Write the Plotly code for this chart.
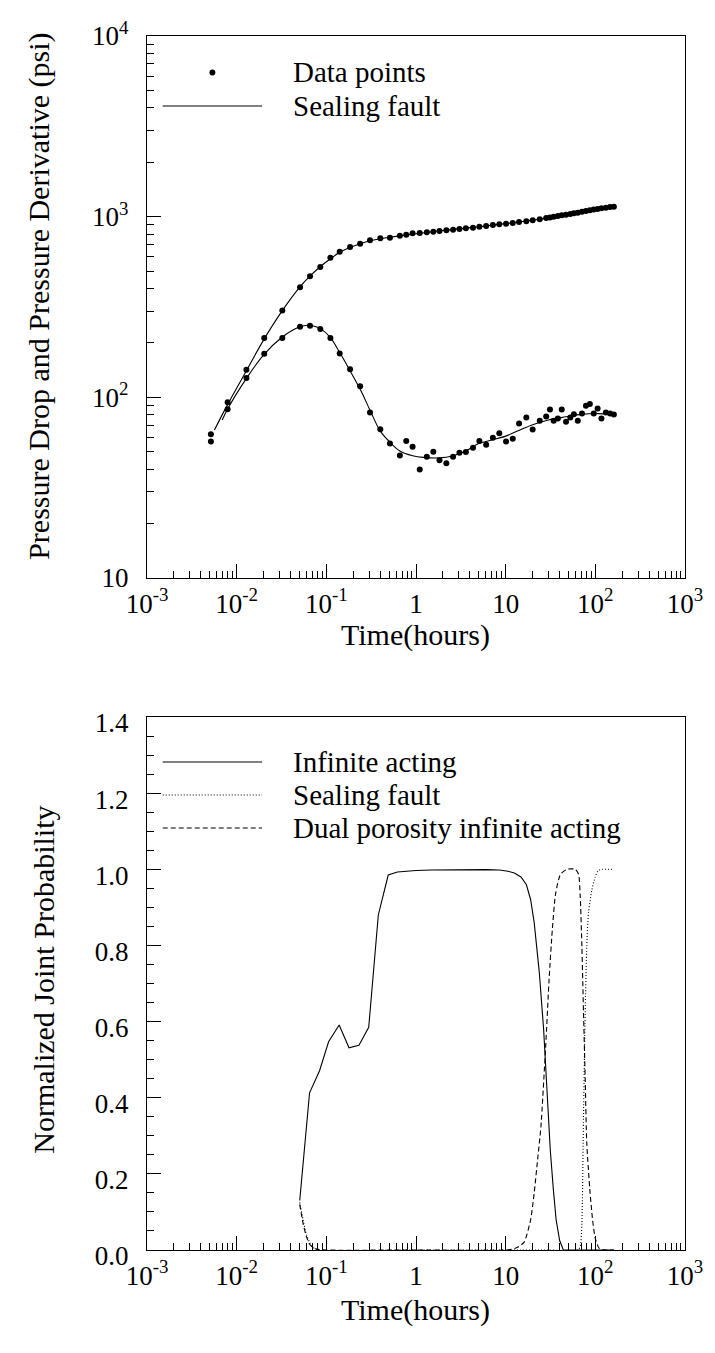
import plotly.graph_objects as go

# ---------------- pressure test data (hours, psi) ----------------
time_h = [0.00516, 0.00793, 0.01285, 0.0203, 0.0323, 0.0509, 0.0658, 0.0857, 0.111, 0.141,
          0.184, 0.238, 0.307, 0.400, 0.512, 0.661, 0.778, 0.916, 1.10, 1.32,
          1.56, 1.83, 2.18, 2.59, 3.05, 3.60, 4.32, 5.09, 6.06, 7.20,
          8.49, 10.1, 12.0, 14.1, 17.0, 20.0, 24.0, 28.3, 31.2, 34.3,
          38.2, 42.2, 47.1, 52.6, 57.6, 63.7, 71.0, 78.5, 86.9, 96.0,
          106, 117, 131, 146, 161]
pressure_drop = [62.5, 93.8, 142, 213, 302, 407, 468, 526, 593, 640,
                 680, 708, 740, 759, 765, 785, 794, 809, 811, 819,
                 826, 833, 840, 847, 855, 862, 869, 880, 888, 899,
                 907, 914, 922, 934, 942, 954, 967, 983, 991, 1000,
                 1009, 1017, 1026, 1035, 1043, 1052, 1066, 1075, 1084, 1094,
                 1104, 1112, 1122, 1131, 1136]
pressure_deriv = [56.9, 86.0, 128, 174, 213, 246, 249, 239, 213, 175,
                  143, 115, 82.4, 66.6, 55.6, 47.6, 57.3, 53.3, 39.8, 46.9,
                  50.0, 44.9, 43.2, 46.9, 49.3, 49.8, 52.6, 57.3, 54.7, 59.8,
                  63.3, 56.9, 59.0, 71.6, 77.3, 66.4, 74.1, 78.3, 85.7, 74.1,
                  76.4, 85.7, 73.2, 77.3, 80.7, 74.1, 81.4, 89.9, 91.8, 81.4,
                  86.8, 76.4, 82.4, 81.4, 80.4]

# ---------------- sealing fault model ----------------
model_t_p = [0.00565, 0.008, 0.0128, 0.02, 0.032, 0.05, 0.066, 0.086, 0.111, 0.14,
             0.18, 0.24, 0.31, 0.40, 0.52, 0.66, 0.92, 1.3, 2.0, 3.0,
             5.0, 8.0, 12, 20, 30, 50, 80, 120, 161]
model_p = [66, 92, 140, 208, 300, 405, 470, 530, 585, 633,
           672, 708, 735, 755, 770, 783, 800, 817, 838, 856,
           880, 903, 925, 955, 985, 1030, 1078, 1113, 1136]
model_t_d = [0.0069, 0.0079, 0.0128, 0.02, 0.032, 0.045, 0.058, 0.07, 0.086, 0.111,
             0.14, 0.18, 0.24, 0.31, 0.40, 0.52, 0.66, 0.92, 1.2, 1.8,
             2.6, 3.6, 5.0, 7.0, 10, 14, 20, 30, 47, 70,
             106, 161]
model_d = [75, 86, 127, 172, 215, 240, 250, 249, 240, 214,
           178, 143, 110, 84, 65, 56, 50.5, 47.5, 46.5, 46.2,
           47.5, 50.5, 55.5, 58, 61, 65.5, 70.5, 75, 78, 80.5,
           81.3, 80]

# ---------------- normalized joint probability ----------------
t_inf = [0.0505, 0.065, 0.084, 0.106, 0.139, 0.179, 0.231, 0.297, 0.38, 0.49,
         0.62, 0.80, 1.0, 1.5, 2.5, 4.0, 6.0, 8.5, 10.6, 12.5,
         14.8, 17.0, 19.0, 20.8, 23.7, 26.5, 29.0, 31.5, 34.0, 36.5,
         40.0, 44.0, 60, 161]
p_inf = [0.13, 0.413, 0.471, 0.547, 0.591, 0.531, 0.538, 0.585, 0.880, 0.985,
         0.993, 0.995, 0.997, 0.998, 0.999, 0.999, 0.999, 0.998, 0.995, 0.99,
         0.98, 0.96, 0.92, 0.86, 0.73, 0.58, 0.40, 0.26, 0.16, 0.08,
         0.025, 0.0, 0.0, 0.0]

t_seal = [0.0505, 0.055, 0.06, 0.065, 0.07, 0.08, 1.0, 30, 64, 68,
          70.8, 73.8, 77.0, 80.3, 83.8, 91.2, 99.3, 108, 120, 161]
p_seal = [0.125, 0.08, 0.04, 0.02, 0.008, 0.0, 0.0, 0.0, 0.0, 0.01,
          0.07, 0.35, 0.62, 0.80, 0.885, 0.944, 0.979, 0.997, 1.0, 1.0]

t_dual = [0.0505, 0.055, 0.06, 0.065, 0.075, 0.1, 1.0, 10, 13, 16,
          19, 20.8, 22.7, 24.7, 28, 30.5, 33.1, 36, 40.9, 48.4,
          59.8, 65, 67.9, 70.8, 73.8, 77, 80.3, 87.4, 93.3, 100,
          110, 130, 161]
p_dual = [0.12, 0.07, 0.035, 0.015, 0.003, 0.0, 0.0, 0.0, 0.005, 0.02,
          0.08, 0.15, 0.237, 0.323, 0.539, 0.711, 0.84, 0.935, 0.987, 1.0,
          1.0, 0.987, 0.927, 0.797, 0.625, 0.453, 0.28, 0.15, 0.078, 0.03,
          0.005, 0.0, 0.0]

# tick labels
x_tickvals = [0.001, 0.01, 0.1, 1, 10, 100, 1000]
x_ticktext = ["10<sup>-3</sup>", "10<sup>-2</sup>", "10<sup>-1</sup>", "1", "10",
              "10<sup>2</sup>", "10<sup>3</sup>"]
y1_tickvals = [10, 100, 1000, 10000]
y1_ticktext = ["10", "10<sup>2</sup>", "10<sup>3</sup>", "10<sup>4</sup>"]
y2_tickvals = [0.0, 0.2, 0.4, 0.6, 0.8, 1.0, 1.2, 1.4]
y2_ticktext = ["0.0", "0.2", "0.4", "0.6", "0.8", "1.0", "1.2", "1.4"]

# ---------------- page geometry (pixels) ----------------
W, H = 715, 1353
L, R = 147, 694
T1, B1 = 36, 578        # pressure panel
T2, B2 = 717, 1250      # probability panel
PH = H - T1 - (H - B2)

def xp(px):
    return (px - L) / (R - L)

def yp(py):
    return (B2 - py) / PH

FONT = "Liberation Serif, Times New Roman, serif"
TICK_SIZE = 27
TITLE_SIZE = 30
LEG_SIZE = 29

fig = go.Figure()

# pressure panel
fig.add_trace(go.Scatter(x=model_t_p, y=model_p, mode="lines", line=dict(color="black", width=1.1, shape="spline"),
                         xaxis="x", yaxis="y", showlegend=False))
fig.add_trace(go.Scatter(x=model_t_d, y=model_d, mode="lines", line=dict(color="black", width=1.1, shape="spline"),
                         xaxis="x", yaxis="y", showlegend=False))
fig.add_trace(go.Scatter(x=time_h, y=pressure_drop, mode="markers", marker=dict(color="black", size=6),
                         xaxis="x", yaxis="y", showlegend=False))
fig.add_trace(go.Scatter(x=time_h, y=pressure_deriv, mode="markers", marker=dict(color="black", size=6),
                         xaxis="x", yaxis="y", showlegend=False))

# probability panel
fig.add_trace(go.Scatter(x=t_inf, y=p_inf, mode="lines", line=dict(color="black", width=1.1),
                         xaxis="x2", yaxis="y2", showlegend=False))
fig.add_trace(go.Scatter(x=t_seal, y=p_seal, mode="lines", line=dict(color="black", width=1.1, dash="1px,2px", shape="spline", smoothing=0.6),
                         xaxis="x2", yaxis="y2", showlegend=False))
fig.add_trace(go.Scatter(x=t_dual, y=p_dual, mode="lines", line=dict(color="black", width=1.1, dash="5px,3px", shape="spline", smoothing=0.6),
                         xaxis="x2", yaxis="y2", showlegend=False))

decade_minor = [m * 10 ** e for e in range(-3, 3) for m in range(2, 10)]
y1_minor = [m * 10 ** e for e in range(1, 4) for m in range(2, 10)]

common = dict(showline=True, linecolor="black", linewidth=1.2, mirror=True,
              ticks="inside", ticklen=14, tickwidth=1, tickcolor="black",
              showgrid=False, zeroline=False,
              tickfont=dict(family=FONT, size=TICK_SIZE, color="black"))

fig.update_layout(
    width=W, height=H,
    margin=dict(l=L, r=W - R, t=T1, b=H - B2),
    paper_bgcolor="white", plot_bgcolor="white",
    showlegend=False,
    xaxis=dict(type="log", range=[-3, 3], domain=[0, 1], anchor="y",
               tickmode="array", tickvals=x_tickvals, ticktext=x_ticktext, ticklabelstandoff=1,
               minor=dict(ticks="inside", ticklen=7, tickwidth=1, tickcolor="black",
                          tickmode="array", tickvals=decade_minor, showgrid=False),
               **common),
    yaxis=dict(type="log", range=[1, 4], domain=[yp(B1), yp(T1)], anchor="x",
               tickmode="array", tickvals=y1_tickvals, ticktext=y1_ticktext, ticklabelstandoff=12,
               minor=dict(ticks="inside", ticklen=7, tickwidth=1, tickcolor="black",
                          tickmode="array", tickvals=y1_minor, showgrid=False),
               **common),
    xaxis2=dict(type="log", range=[-3, 3], domain=[0, 1], anchor="y2",
                tickmode="array", tickvals=x_tickvals, ticktext=x_ticktext, ticklabelstandoff=1,
                minor=dict(ticks="inside", ticklen=7, tickwidth=1, tickcolor="black",
                           tickmode="array", tickvals=decade_minor, showgrid=False),
                **common),
    yaxis2=dict(range=[0, 1.4], domain=[0, yp(T2)], anchor="x2",
                tickmode="array", tickvals=y2_tickvals, ticktext=y2_ticktext,
                ticklabelstandoff=12, ticklabelshift=6,
                minor=dict(ticks="inside", ticklen=7, tickwidth=1, tickcolor="black",
                           dtick=0.05, showgrid=False),
                **common),
)

# axis titles
titles = [
    ("Time(hours)", xp(420), yp(635), 0),
    ("Time(hours)", xp(420), yp(1310), 0),
    ("Pressure Drop and Pressure Derivative (psi)", xp(37), yp(296), -90),
    ("Normalized Joint Probability", xp(41), yp(980), -90),
]
for text, x, y, ang in titles:
    fig.add_annotation(text=text, x=x, y=y, xref="paper", yref="paper", showarrow=False,
                       textangle=ang, xanchor="center", yanchor="middle",
                       font=dict(family=FONT, size=TITLE_SIZE, color="black"))

# legend keys
LX0, LX1, LTX = 163, 264, 293
shapes = []
shapes.append(dict(type="circle", xref="paper", yref="paper",
                   x0=xp(213.5 - 3), x1=xp(213.5 + 3), y0=yp(72.5 + 3), y1=yp(72.5 - 3),
                   fillcolor="black", line=dict(color="black", width=0)))
legend_lines = [(106, "solid"), (762, "solid"), (795, "1px,2px"), (828, "5px,3px")]
for yy, dash in legend_lines:
    shapes.append(dict(type="line", xref="paper", yref="paper", x0=xp(LX0), x1=xp(LX1),
                       y0=yp(yy), y1=yp(yy), line=dict(color="black", width=1.1, dash=dash)))
fig.update_layout(shapes=shapes)

legend_texts = [("Data points", 72.5), ("Sealing fault", 106),
                ("Infinite acting", 762), ("Sealing fault", 795),
                ("Dual porosity infinite acting", 828)]
for text, yy in legend_texts:
    fig.add_annotation(text=text, x=xp(LTX), y=yp(yy), xref="paper", yref="paper", showarrow=False,
                       xanchor="left", yanchor="middle",
                       font=dict(family=FONT, size=LEG_SIZE, color="black"))

fig.write_html("out.html")
